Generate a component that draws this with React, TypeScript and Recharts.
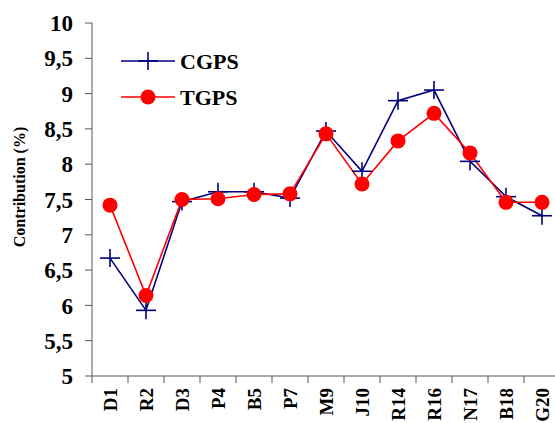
import {
  ComposedChart,
  Line,
  XAxis,
  YAxis,
  Legend,
} from "recharts";

const categories = ["D1", "R2", "D3", "P4", "B5", "P7", "M9", "J10", "R14", "R16", "N17", "B18", "G20"];
const cgps = [6.67, 5.93, 7.47, 7.61, 7.61, 7.52, 8.47, 7.9, 8.9, 9.05, 8.04, 7.54, 7.27];
const tgps = [7.42, 6.14, 7.5, 7.51, 7.57, 7.58, 8.43, 7.72, 8.33, 8.72, 8.16, 7.46, 7.46];
const yTicks = [5, 5.5, 6, 6.5, 7, 7.5, 8, 8.5, 9, 9.5, 10];

const data = categories.map((name, i) => ({ name, cgps: cgps[i], tgps: tgps[i] }));

const W = 570;
const H = 423;
const margin = { top: 23, right: 10, left: 0, bottom: 0 };
const yAxisWidth = 92;
const xAxisHeight = 47;
const band = (W - margin.left - margin.right - yAxisWidth) / categories.length;

const NAVY = "#000080";
const RED = "#ff0000";
const FONT = "'Liberation Serif', 'Times New Roman', serif";

function Cross(props: any) {
  const { cx, cy, key } = props;
  if (cx == null || cy == null) return null;
  return (
    <g key={key}>
      <line x1={cx - 10} x2={cx + 10} y1={cy} y2={cy} stroke={NAVY} strokeWidth={1.6} />
      <line x1={cx} x2={cx} y1={cy - 9} y2={cy + 9} stroke={NAVY} strokeWidth={1.6} />
    </g>
  );
}

// category labels sit in the middle of each slot, tick marks on the slot borders
function XTick(props: any) {
  const { x, payload, index } = props;
  const axisY = H - margin.bottom - xAxisHeight;
  const ly = axisY + 12;
  return (
    <g>
      <line x1={x - band / 2} x2={x - band / 2} y1={axisY} y2={axisY + 7} stroke="#555" />
      {index === categories.length - 1 && (
        <line x1={x + band / 2} x2={x + band / 2} y1={axisY} y2={axisY + 7} stroke="#555" />
      )}
      <text
        x={x}
        y={ly}
        transform={`rotate(-90 ${x} ${ly})`}
        textAnchor="end"
        dominantBaseline="central"
        fontFamily={FONT}
        fontWeight="bold"
        fontSize={19}
        fill="#000"
      >
        {payload.value}
      </text>
    </g>
  );
}

function LegendContent() {
  const rows = [
    { label: "CGPS", color: NAVY, mark: "cross" },
    { label: "TGPS", color: RED, mark: "dot" },
  ];
  return (
    <svg width={130} height={80}>
      {rows.map((r, i) => {
        const y = 14 + i * 36;
        return (
          <g key={r.label}>
            <line x1={0} x2={54} y1={y} y2={y} stroke={r.color} strokeWidth={1.6} />
            {r.mark === "cross" ? (
              <Cross cx={27} cy={y} />
            ) : (
              <circle cx={27} cy={y} r={7.5} fill={RED} />
            )}
            <text
              x={59}
              y={y}
              dominantBaseline="central"
              fontFamily={FONT}
              fontWeight="bold"
              fontSize={22}
              fill="#000"
            >
              {r.label}
            </text>
          </g>
        );
      })}
    </svg>
  );
}

export default function App() {
  return (
    <div style={{ position: "absolute", left: 0, top: 0, width: 555, height: 423, overflow: "hidden", background: "#fff" }}>
      <ComposedChart width={W} height={H} data={data} margin={margin}>
        <XAxis
          dataKey="name"
          height={xAxisHeight}
          stroke="#555"
          tickLine={false}
          tick={<XTick />}
          interval={0}
          padding={{ left: band / 2, right: band / 2 }}
        />
        <YAxis
          width={yAxisWidth}
          domain={[5, 10]}
          ticks={yTicks}
          stroke="#555"
          tickSize={7}
          tickMargin={12}
          tickFormatter={(v: number) => String(v).replace(".", ",")}
          tick={{ fill: "#000", fontFamily: FONT, fontWeight: "bold", fontSize: 23 }}
          label={{
            content: () => {
              const cx = 19;
              const cy = 187;
              return (
                <text
                  x={cx}
                  y={cy}
                  transform={`rotate(-90 ${cx} ${cy})`}
                  textAnchor="middle"
                  dominantBaseline="central"
                  fontFamily={FONT}
                  fontWeight="bold"
                  fontSize={16}
                  fill="#000"
                >
                  Contribution (%)
                </text>
              );
            },
          }}
        />
        <Legend
          layout="vertical"
          align="center"
          verticalAlign="middle"
          wrapperStyle={{ top: 47, left: 121, width: 130 }}
          content={<LegendContent />}
        />
        <Line
          dataKey="cgps"
          name="CGPS"
          stroke={NAVY}
          strokeWidth={1.6}
          dot={<Cross />}
          isAnimationActive={false}
        />
        <Line
          dataKey="tgps"
          name="TGPS"
          stroke={RED}
          strokeWidth={1.6}
          dot={{ r: 7.5, fill: RED, stroke: RED, strokeWidth: 0 }}
          isAnimationActive={false}
        />
      </ComposedChart>
    </div>
  );
}
